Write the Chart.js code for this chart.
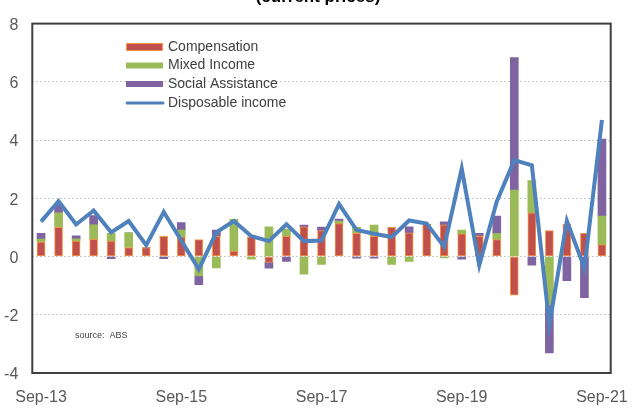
<!DOCTYPE html>
<html>
<head>
<meta charset="utf-8">
<script src="https://cdn.jsdelivr.net/npm/chart.js@4.4.0/dist/chart.umd.min.js"></script>
<style>
  body { margin: 0; background: #fff; }
</style>
</head>
<body>
<canvas id="incomeChart" width="643" height="409"></canvas>
<script>
// quarterly contributions (percentage points)
const quarters = ['Sep-13','Dec-13','Mar-14','Jun-14','Sep-14','Dec-14','Mar-15','Jun-15',
  'Sep-15','Dec-15','Mar-16','Jun-16','Sep-16','Dec-16','Mar-17','Jun-17',
  'Sep-17','Dec-17','Mar-18','Jun-18','Sep-18','Dec-18','Mar-19','Jun-19',
  'Sep-19','Dec-19','Mar-20','Jun-20','Sep-20','Dec-20','Mar-21','Jun-21','Sep-21'];

const compensation = [0.5, 1.0, 0.53, 0.59, 0.53, 0.31, 0.31, 0.69, 0.67, 0.58, 0.69, 0.19, 0.67, -0.2, 0.69, 1.02,
  0.89, 1.13, 0.8, 0.69, 1.0, 0.81, 1.11, 1.09, 0.78, 0.7, 0.58, -1.33, 1.5, 0.89, 1.11, 0.8, 0.41];
const mixedIncome = [0.1, 0.5, 0.08, 0.5, 0.27, 0.5, 0, 0, 0.24, -0.67, -0.39, 1.09, -0.09, 1.02, 0.25, -0.61,
  -0.27, 0.09, 0.2, 0.39, -0.27, -0.17, 0, -0.05, 0.13, 0, 0.22, 2.28, 1.11, -1.67, 0, 0, 0.98];
const socialAssistance = [0.2, 0.28, 0.1, 0.32, -0.07, 0, 0, -0.07, 0.26, -0.3, 0.22, 0, 0, -0.2, -0.17, 0.06,
  0.12, 0.07, -0.06, -0.06, 0, 0.21, 0, 0.1, -0.09, 0.1, 0.59, 4.55, -0.3, -1.64, -0.83, -1.41, 2.64];
const disposableIncome = [1.2, 1.9, 1.1, 1.58, 0.83, 1.22, 0.39, 1.53, 0.55, -0.44, 0.83, 1.22, 0.7, 0.53, 1.11, 0.53,
  0.55, 1.8, 0.91, 0.78, 0.67, 1.24, 1.13, 0.33, 3.02, -0.3, 1.89, 3.31, 3.13, -2.33, 1.22, -0.39, 4.69];

const yMin = -4, yMax = 8, yStep = 2;

const tickFont = { family: 'Liberation Sans, Arial, sans-serif', size: 16 };

// title (cut off at the top), legend inside the plot, source note and frame
const decorations = {
    id: 'decorations',
    afterDraw(chart) {
        const ctx = chart.ctx;
        const area = chart.chartArea;
        ctx.save();

        ctx.strokeStyle = '#404040';
        ctx.lineWidth = 2;
        ctx.strokeRect(area.left, area.top, area.right - area.left, area.bottom - area.top);

        ctx.fillStyle = '#000';
        ctx.font = 'bold 17px Liberation Sans, Arial, sans-serif';
        ctx.textAlign = 'center';
        ctx.textBaseline = 'alphabetic';
        ctx.fillText('(current prices)', 318, 2);

        ctx.textAlign = 'left';
        ctx.textBaseline = 'middle';
        ctx.font = '14px Liberation Sans, Arial, sans-serif';
        const rows = [47, 65.5, 84, 103];
        chart.data.datasets.forEach((ds, i) => {
            const y = rows[i];
            if (ds.type === 'line') {
                ctx.strokeStyle = ds.borderColor;
                ctx.lineWidth = 3;
                ctx.lineCap = 'round';
                ctx.beginPath();
                ctx.moveTo(127, y);
                ctx.lineTo(163, y);
                ctx.stroke();
            } else {
                ctx.fillStyle = ds.backgroundColor;
                ctx.fillRect(126, y - 3, 37, 6);
                if (ds.borderWidth) {
                    ctx.strokeStyle = ds.borderColor;
                    ctx.lineWidth = 1;
                    ctx.strokeRect(126.5, y - 3.5, 36, 7);
                }
            }
            ctx.fillStyle = '#404040';
            ctx.fillText(ds.label, 168, y);
        });

        ctx.font = '9px Liberation Sans, Arial, sans-serif';
        ctx.fillStyle = '#404040';
        ctx.fillText('source:  ABS', 75, 336);
        ctx.restore();
    }
};

const ctx = document.getElementById('incomeChart').getContext('2d');
new Chart(ctx, {
    data: {
        labels: quarters,
        datasets: [
            {
                type: 'bar',
                label: 'Compensation',
                data: compensation,
                backgroundColor: '#C0504D',
                borderColor: '#F79646',
                borderWidth: 1,
                borderSkipped: false,
                barThickness: 8,
                stack: 'bars',
                order: 1
            },
            {
                type: 'bar',
                label: 'Mixed Income',
                data: mixedIncome,
                backgroundColor: '#9BBB59',
                borderWidth: 0,
                barThickness: 8,
                stack: 'bars',
                order: 1
            },
            {
                type: 'bar',
                label: 'Social Assistance',
                data: socialAssistance,
                backgroundColor: '#8064A2',
                borderWidth: 0,
                barThickness: 8,
                stack: 'bars',
                order: 1
            },
            {
                type: 'line',
                label: 'Disposable income',
                data: disposableIncome,
                borderColor: '#4F81BD',
                backgroundColor: '#4F81BD',
                borderWidth: 4,
                pointRadius: 0,
                tension: 0,
                stack: 'line',
                order: 0
            }
        ]
    },
    options: {
        responsive: false,
        animation: false,
        layout: { padding: { top: 13, right: 19, left: 0, bottom: 0 } },
        plugins: {
            legend: { display: false },
            tooltip: { enabled: false }
        },
        scales: {
            x: {
                stacked: true,
                offset: true,
                grid: { display: false, drawTicks: false },
                border: { display: false },
                ticks: {
                    autoSkip: false,
                    maxRotation: 0,
                    padding: 15,
                    color: '#595959',
                    font: tickFont,
                    callback: function (value, index) {
                        return index % 8 === 0 ? quarters[index] : '';
                    }
                },
                afterFit: function (scale) { scale.height = 36; }
            },
            y: {
                stacked: true,
                min: yMin,
                max: yMax,
                grid: {
                    color: '#c8c8c8',
                    lineWidth: 1,
                    drawTicks: false
                },
                border: { display: false, dash: [2, 2] },
                ticks: {
                    stepSize: yStep,
                    padding: 14,
                    labelOffset: 2,
                    color: '#595959',
                    font: tickFont
                },
                afterFit: function (scale) { scale.width = 30; }
            }
        }
    },
    plugins: [decorations]
});
</script>
</body>
</html>
